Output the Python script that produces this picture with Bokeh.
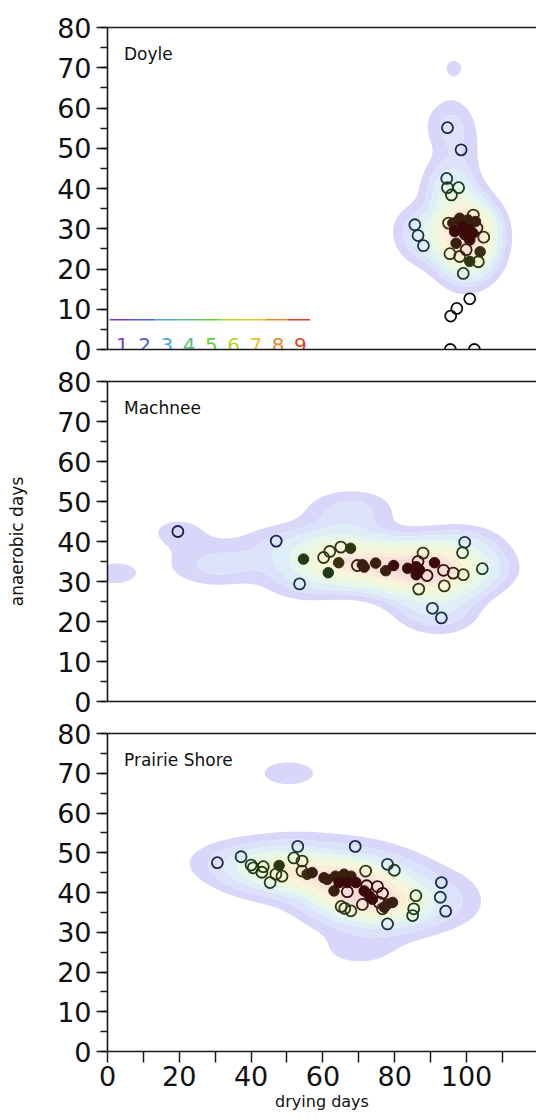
import numpy as np
from bokeh.plotting import figure
from bokeh.layouts import column
from bokeh.models import Range1d, SingleIntervalTicker, FixedTicker, LinearAxis, Label, ColumnDataSource
from bokeh.core.properties import value
from bokeh.embed import file_html
from bokeh.resources import INLINE

# ---------------- data ----------------
sites = ["Doyle", "Machnee", "Prairie Shore"]
quantile_levels = [0.1, 0.2, 0.3, 0.4, 0.5, 0.6, 0.7, 0.8, 0.9]
level_labels = [".1", ".2", ".3", ".4", ".5", ".6", ".7", ".8", ".9"]
x_ticks = [0, 20, 40, 60, 80, 100]
x_minor_ticks = [10, 30, 50, 70, 90, 110]

doyle_open_x = [94.7, 98.5, 94.5, 94.7, 97.8, 95.8, 85.6, 86.5, 88.0, 95.4, 99.1, 103.3,
                104.8, 101.9, 102.9, 95.0, 98.1, 99.9, 100.9, 97.3, 95.6, 95.5, 102.2]
doyle_open_y = [55.1, 49.6, 42.5, 40.2, 40.2, 38.4, 31.0, 28.3, 25.8, 23.8, 18.9, 21.8,
                27.9, 33.4, 30.2, 31.4, 23.1, 24.8, 12.6, 10.2, 8.3, 0.0, 0.0]
# 1 = row used by the density estimate, 0 = plotted only
doyle_open_in_density = [1, 1, 1, 1, 1, 1, 1, 1, 1, 1, 1, 1,
                         1, 1, 1, 1, 1, 1, 0, 0, 0, 0, 0]
doyle_filled_x = [96.2, 98.1, 100.4, 99.0, 100.9, 99.5, 100.9, 97.1, 103.8, 100.9, 101.8, 96.7, 102.5]
doyle_filled_y = [31.4, 32.6, 32.2, 30.5, 29.7, 28.5, 27.2, 26.4, 24.3, 21.9, 28.9, 29.3, 31.8]
# rows used by the density estimate that carry no plotted marker
doyle_unplotted_x = [96.5, 96.0]
doyle_unplotted_y = [70.0, 57.0]

machnee_open_x = [19.6, 47.0, 53.5, 60.2, 61.9, 65.0, 69.6, 86.5, 87.9, 89.0, 86.7, 93.6, 93.8,
                  96.3, 99.1, 98.9, 99.5, 104.4, 90.5, 93.0]
machnee_open_y = [42.5, 40.1, 29.4, 36.0, 37.5, 38.6, 34.0, 35.0, 37.1, 31.5, 28.1, 32.8, 28.9,
                  32.1, 31.7, 37.2, 39.8, 33.2, 23.3, 20.9]
machnee_open_in_density = [1] * 20
machnee_filled_x = [54.6, 61.5, 64.4, 67.7, 71.0, 71.5, 74.7, 77.5, 79.7, 83.6, 86.0, 86.9, 86.0, 91.1]
machnee_filled_y = [35.6, 32.2, 34.7, 38.3, 34.2, 33.6, 34.6, 32.7, 34.0, 33.3, 33.7, 32.9, 31.7, 34.7]
machnee_unplotted_x = [2.0, 27.0, 35.0, 64.0, 71.0]
machnee_unplotted_y = [32.0, 33.5, 34.5, 47.5, 48.0]

prairie_open_x = [30.6, 37.2, 40.0, 40.6, 43.4, 43.0, 45.3, 46.9, 48.6, 51.9, 53.0, 54.2, 54.2,
                  69.0, 78.0, 79.9, 71.9, 93.0, 92.7, 94.2, 85.9, 85.3, 85.0, 78.0, 75.2, 76.6,
                  66.8, 71.0, 65.1, 66.1, 67.8, 75.7, 76.6, 72.2]
prairie_open_y = [47.5, 49.0, 46.9, 46.2, 46.5, 45.1, 42.5, 44.6, 44.1, 48.7, 51.6, 47.9, 45.4,
                  51.6, 47.1, 45.6, 45.4, 42.5, 38.8, 35.3, 39.2, 35.9, 34.2, 32.1, 41.5, 39.8,
                  40.2, 37.0, 36.5, 36.0, 35.4, 37.5, 35.9, 41.7]
prairie_open_in_density = [1] * 34
prairie_filled_x = [47.8, 55.6, 57.0, 60.3, 61.2, 63.1, 63.5, 65.9, 67.8, 64.5, 66.8, 69.2,
                    71.5, 72.9, 73.8, 78.0, 79.4, 77.1]
prairie_filled_y = [46.8, 44.6, 45.0, 43.7, 43.3, 40.4, 44.1, 44.6, 44.1, 42.5, 42.5, 42.5,
                    40.4, 39.2, 38.3, 37.1, 37.5, 36.3]
prairie_unplotted_x = [48.0, 53.0, 67.0, 73.0]
prairie_unplotted_y = [70.0, 70.0, 25.5, 25.5]

panels = [
    (doyle_open_x, doyle_open_y, doyle_open_in_density, doyle_filled_x, doyle_filled_y,
     doyle_unplotted_x, doyle_unplotted_y),
    (machnee_open_x, machnee_open_y, machnee_open_in_density, machnee_filled_x, machnee_filled_y,
     machnee_unplotted_x, machnee_unplotted_y),
    (prairie_open_x, prairie_open_y, prairie_open_in_density, prairie_filled_x, prairie_filled_y,
     prairie_unplotted_x, prairie_unplotted_y),
]

# ---------------- style ----------------
FONT = "DejaVu Sans"
X_END = 119.5
bandwidths = [(4.8, 4.2), (8.0, 3.8), (9.0, 3.8)]
legend_colors = ["#7B3FCF", "#4B5BE5", "#4FA7DE", "#52BF7E", "#62D13F",
                 "#B3D72F", "#E6C52C", "#E6872E", "#DD3F1F"]
fill_colors = ["#D8D7F9", "#DBE2FA", "#DEEEF6", "#E6F6EA", "#EEF8DC",
               "#F7F6D8", "#FAEDD8", "#F9E3D9", "#F7DADA"]
dark_colors = ["#111111", "#1c1c4e", "#1c2654", "#1c3444", "#1c3a24",
               "#1f3a14", "#2c3810", "#38300e", "#3a1e0e", "#3a0a0a"]
AX = "#1a1a1a"

gx = np.linspace(-20, 140, 400)
gy = np.linspace(-20, 100, 300)
GX, GY = np.meshgrid(gx, gy)


def kde(px, py, qx, qy, hx, hy):
    out = np.zeros(np.broadcast(qx, qy).shape)
    for a, b in zip(px, py):
        out = out + np.exp(-0.5 * (((qx - a) / hx) ** 2 + ((qy - b) / hy) ** 2))
    return out


def mass_levels(Z, qs):
    zs = np.sort(Z.ravel())[::-1]
    cs = np.cumsum(zs)
    cs = cs / cs[-1]
    return [float(zs[min(np.searchsorted(cs, 1 - q), len(zs) - 1)]) for q in qs]


def style_axis_lines(a):
    a.axis_line_color = AX
    a.axis_line_width = 1.6
    a.major_tick_line_color = AX
    a.major_tick_line_width = 1.5
    a.minor_tick_line_color = AX
    a.minor_tick_line_width = 1.5


def make_fig(height, btop, bbot, bottom_ticks):
    p = figure(width=536, height=height, output_backend="svg", toolbar_location=None,
               x_range=Range1d(0, X_END), y_range=Range1d(0, 80),
               min_border_left=107, min_border_right=0, min_border_top=btop, min_border_bottom=bbot)
    p.outline_line_color = None
    p.grid.visible = False
    ya = p.yaxis[0]
    ya.ticker = SingleIntervalTicker(interval=10, num_minor_ticks=2)
    ya.major_label_text_font = FONT
    ya.major_label_text_font_size = "27px"
    ya.major_label_text_color = "#111111"
    ya.major_tick_out = 11
    ya.major_tick_in = 0
    ya.minor_tick_out = 7
    ya.minor_tick_in = 0
    ya.major_label_standoff = 5
    style_axis_lines(ya)
    xa = p.xaxis[0]
    style_axis_lines(xa)
    if bottom_ticks:
        xa.ticker = FixedTicker(ticks=x_ticks, minor_ticks=x_minor_ticks)
        xa.major_label_text_font = FONT
        xa.major_label_text_font_size = "27px"
        xa.major_label_text_color = "#111111"
        xa.major_tick_out = 11
        xa.major_tick_in = 0
        xa.minor_tick_out = 11
        xa.minor_tick_in = 0
        xa.major_label_standoff = 3
        xa.axis_label = "drying days"
        xa.axis_label_text_font = FONT
        xa.axis_label_text_font_size = "16px"
        xa.axis_label_text_font_style = "normal"
        xa.axis_label_text_color = "#111111"
        xa.axis_label_standoff = 3
    else:
        xa.ticker = FixedTicker(ticks=[])
        xa.major_tick_out = 0
        xa.minor_tick_out = 0
        xa.major_label_text_font_size = "0px"
    top = LinearAxis(ticker=FixedTicker(ticks=[]), major_tick_out=0, minor_tick_out=0,
                     major_label_text_font_size="0px", axis_line_color=AX, axis_line_width=1.6)
    p.add_layout(top, "above")
    return p


figs = [make_fig(365, 27, 16, False), make_fig(352, 16, 16, False), make_fig(402, 16, 68, True)]

for i, (p, site, data) in enumerate(zip(figs, sites, panels)):
    ox, oy, oin, fx, fy, ux, uy = [np.asarray(v, dtype=float) for v in data]
    keep = oin > 0
    hx, hy = bandwidths[i]
    dx = np.concatenate([ox[keep], fx, ux])
    dy = np.concatenate([oy[keep], fy, uy])
    Z = kde(dx, dy, GX, GY, hx, hy)
    q = mass_levels(Z, quantile_levels)
    q.append(float(Z.max()) * 1.05)
    p.contour(x=gx, y=gy, z=Z, levels=q, fill_color=fill_colors, line_color=None)

    ptx = np.concatenate([ox, fx])
    pty = np.concatenate([oy, fy])
    dens = kde(dx, dy, ptx, pty, hx, hy)
    lvl = np.searchsorted(q[:9], dens, side="right")
    cols = [dark_colors[k] for k in lvl]
    n_open = len(ox)
    p.scatter(x=ox, y=oy, size=11, marker="circle", fill_color=None,
              line_color=cols[:n_open], line_width=1.8)
    p.scatter(x=fx, y=fy, size=10.5, marker="circle", fill_color=cols[n_open:],
              line_color=cols[n_open:], line_width=1.0)

    p.add_layout(Label(x=4.6, y=73.3, text=site, text_font=FONT, text_font_size="17px",
                       text_color="#111111", text_baseline="alphabetic", text_align="left"))

# legend of density quantile levels in the first panel
leg_x0, leg_step, leg_line_y, leg_text_y = 0.6, 6.2, 7.4, 1.1
seg_x0 = [leg_x0 + k * leg_step for k in range(len(level_labels))]
seg_x1 = [leg_x0 + (k + 1) * leg_step for k in range(len(level_labels))]
leg_src = ColumnDataSource(dict(x0=seg_x0, x1=seg_x1, y=[leg_line_y] * len(level_labels),
                                ty=[leg_text_y] * len(level_labels), t=level_labels, c=legend_colors))
figs[0].segment(x0="x0", y0="y", x1="x1", y1="y", line_color="c", line_width=1.6, source=leg_src)
figs[0].text(x="x0", y="ty", text="t", text_color="c", text_font=value(FONT),
             text_font_size=value("20px"), text_baseline="alphabetic", text_align="left",
             source=leg_src)

ya2 = figs[1].yaxis[0]
ya2.axis_label = "anaerobic days"
ya2.axis_label_text_font = FONT
ya2.axis_label_text_font_size = "17px"
ya2.axis_label_text_font_style = "normal"
ya2.axis_label_text_color = "#111111"
ya2.axis_label_standoff = 27

layout = column(*figs, spacing=0)
open("out.html", "w").write(file_html(layout, INLINE))
